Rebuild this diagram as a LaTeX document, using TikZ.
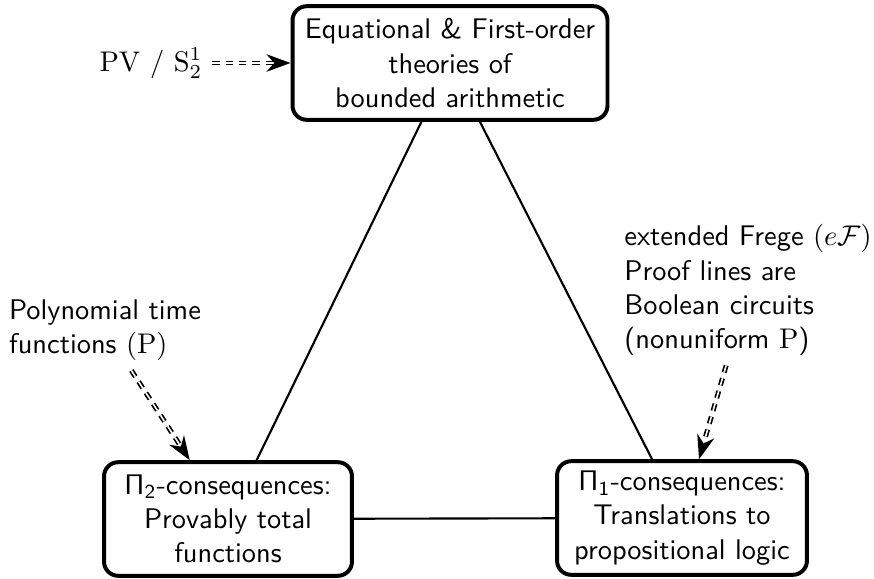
\documentclass[tikz,border=0pt]{standalone}
\usetikzlibrary{arrows.meta}
\begin{document}
\begin{tikzpicture}[x=0.3521pt,y=-0.3521pt,
  box/.style={draw, line width=1.4pt, rounded corners=5pt, align=center,
    font=\sffamily, minimum height=40pt},
  lbl/.style={font=\sffamily, align=left},
  conn/.style={draw, line width=0.75pt},
  dbl/.style={draw, double, line width=0.6pt, double distance=0.55pt,
    dash pattern=on 2.6pt off 2.1pt, -{Stealth[length=8.5pt,width=6.2pt]}}]
\useasboundingbox (0,0) rectangle (874,578);
\node[box, minimum width=110.9pt] (top) at (450,63)
  {Equational \& First-order\\theories of\\bounded arithmetic};
\node[box, minimum width=87.3pt] (bl) at (228,519)
  {$\mathsf{\Pi_2}$-consequences:\\Provably total\\functions};
\node[box, minimum width=88pt] (br) at (682,518)
  {$\mathsf{\Pi_1}$-consequences:\\Translations to\\propositional logic};
\node[lbl] (pv) at (151,63) {$\mathrm{PV}$ / $\mathrm{S}^1_2$};
\node[lbl] (poly) at (105,330) {Polynomial time\\functions $(\mathrm{P})$};
\node[lbl] (ef) at (748,290) {extended Frege $(e\mathcal{F})$\\Proof lines are\\Boolean circuits\\(nonuniform $\mathrm{P}$)};
\draw[conn] (top) -- (bl);
\draw[conn] (top) -- (br);
\draw[conn] (bl) -- (br);
\draw[dbl] (pv) -- (top);
\draw[dbl] (poly) -- (bl);
\draw[dbl] (ef) -- (br);
\end{tikzpicture}
\end{document}
